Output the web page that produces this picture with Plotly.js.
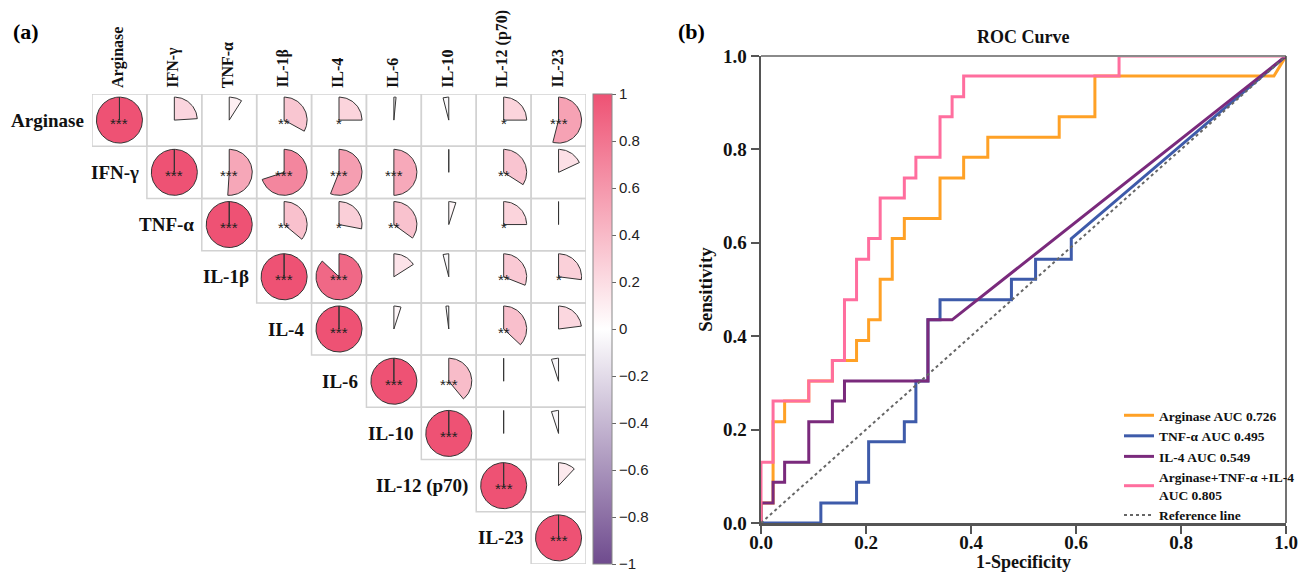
<!DOCTYPE html>
<html><head><meta charset="utf-8">
<script src="https://cdn.plot.ly/plotly-3.0.1.min.js"></script>
<style>html,body{margin:0;padding:0;background:#fff}#chart{width:1301px;height:573px}</style>
</head><body><div id="chart"></div>
<script>
// ---------- DATA ----------
const labels = ['Arginase','IFN-γ','TNF-α','IL-1β','IL-4','IL-6','IL-10','IL-12 (p70)','IL-23'];
// correlation values, each row from the diagonal to the right
const corrArginase = [1, 0.24, 0.09, 0.33, 0.25, 0.015, -0.04, 0.25, 0.54];
const corrIFNg     = [1, 0.51, 0.70, 0.56, 0.50, 0.005, 0.34, 0.18];
const corrTNFa     = [1, 0.36, 0.28, 0.35, 0.05, 0.25, 0.005];
const corrIL1b     = [1, 0.87, 0.16, -0.04, 0.31, 0.27];
const corrIL4      = [1, 0.05, -0.02, 0.37, 0.23];
const corrIL6      = [1, 0.39, 0.005, -0.05];
const corrIL10     = [1, 0.005, -0.05];
const corrIL12     = [1, 0.12];
const corrIL23     = [1];
// significance stars, same layout
const starsArginase = ['***','','','**','*','','','*','***'];
const starsIFNg     = ['***','***','***','***','***','','**',''];
const starsTNFa     = ['***','**','*','**','','*',''];
const starsIL1b     = ['***','***','','','**','*'];
const starsIL4      = ['***','','','**',''];
const starsIL6      = ['***','***','',''];
const starsIL10     = ['***','',''];
const starsIL12     = ['***',''];
const starsIL23     = ['***'];
const corrRows  = [corrArginase, corrIFNg, corrTNFa, corrIL1b, corrIL4, corrIL6, corrIL10, corrIL12, corrIL23];
const starRows  = [starsArginase, starsIFNg, starsTNFa, starsIL1b, starsIL4, starsIL6, starsIL10, starsIL12, starsIL23];
const colorbarTicks = [-1,-0.8,-0.6,-0.4,-0.2,0,0.2,0.4,0.6,0.8,1];

// ROC curves (1-specificity, sensitivity)
const rocArgFpr = [0,0,0.023,0.023,0.045,0.045,0.091,0.091,0.136,0.136,0.182,0.182,0.205,0.205,0.227,0.227,0.25,0.25,0.273,0.273,0.341,0.341,0.386,0.386,0.432,0.432,0.568,0.568,0.636,0.636,0.977,1];
const rocArgTpr = [0,0.043,0.043,0.217,0.217,0.261,0.261,0.304,0.304,0.348,0.348,0.391,0.391,0.435,0.435,0.522,0.522,0.609,0.609,0.652,0.652,0.739,0.739,0.783,0.783,0.826,0.826,0.870,0.870,0.957,0.957,1];
const rocTnfFpr = [0,0.114,0.114,0.182,0.182,0.205,0.205,0.273,0.273,0.295,0.295,0.318,0.318,0.341,0.341,0.477,0.477,0.523,0.523,0.591,0.591,1];
const rocTnfTpr = [0,0,0.043,0.043,0.087,0.087,0.174,0.174,0.217,0.217,0.304,0.304,0.435,0.435,0.478,0.478,0.522,0.522,0.565,0.565,0.609,1];
const rocIl4Fpr = [0,0,0.023,0.023,0.045,0.045,0.091,0.091,0.136,0.136,0.159,0.159,0.318,0.318,0.364,1];
const rocIl4Tpr = [0,0.043,0.043,0.087,0.087,0.130,0.130,0.217,0.217,0.261,0.261,0.304,0.304,0.435,0.435,1];
const rocComboFpr = [0,0,0.023,0.023,0.091,0.091,0.136,0.136,0.159,0.159,0.182,0.182,0.205,0.205,0.227,0.227,0.273,0.273,0.295,0.295,0.341,0.341,0.364,0.364,0.386,0.386,0.682,0.682,1];
const rocComboTpr = [0,0.130,0.130,0.261,0.261,0.304,0.304,0.348,0.348,0.478,0.478,0.565,0.565,0.609,0.609,0.696,0.696,0.739,0.739,0.783,0.783,0.870,0.870,0.913,0.913,0.957,0.957,1,1];
const refLine = [0,1];
const rocNames = ['Arginase AUC 0.726','TNF-α AUC 0.495','IL-4 AUC 0.549','Arginase+TNF-α +IL-4<br>AUC 0.805','Reference line'];

// ---------- LAYOUT CONSTANTS ----------
const W = 1301, H = 573;
const gL = 92, gR = 586, gT = 94, gB = 564;
const n = labels.length;
const cellW = (gR - gL) / n, cellH = (gB - gT) / n;
const R = 23;
const rx = R / cellW, ry = R / cellH;
const serif = 'Liberation Serif, Times New Roman, serif';
const sans = 'Liberation Sans, Arial, sans-serif';

const stops = [[-1,[111,75,142]],[0,[255,255,255]],[1,[238,82,116]]];
const cscale = [[0,'rgb(111,75,142)'],[0.5,'rgb(255,255,255)'],[1,'rgb(238,82,116)']];
function colorFor(v){
  let a = stops[0], b = stops[1];
  if (v >= 0) { a = stops[1]; b = stops[2]; }
  const t = (v - a[0]) / (b[0] - a[0]);
  const c = a[1].map((ch, k) => Math.round(ch + (b[1][k] - ch) * t));
  return 'rgb(' + c.join(',') + ')';
}

const traces = [];
const shapes = [];
const annotations = [];

for (let i = 0; i < n; i++) {
  const row = corrRows[i];
  for (let k = 0; k < row.length; k++) {
    const j = i + k;
    const v = row[k];
    shapes.push({type:'rect', xref:'x', yref:'y', x0:j-0.5, x1:j+0.5, y0:i-0.5, y1:i+0.5,
      line:{color:'#d2d2d2', width:1.5}, fillcolor:'rgba(0,0,0,0)', layer:'below'});
    const ang = v * 2 * Math.PI;
    const steps = Math.max(2, Math.ceil(Math.abs(v) * 144));
    const xs = [j], ys = [i];
    for (let s = 0; s <= steps; s++) {
      const t = ang * s / steps;
      xs.push(j + rx * Math.sin(t));
      ys.push(i - ry * Math.cos(t));
    }
    xs.push(j); ys.push(i);
    traces.push({type:'scatter', x:xs, y:ys, xaxis:'x', yaxis:'y', mode:'lines', fill:'toself',
      fillcolor: colorFor(v), line:{color:'#333', width:1}, hoverinfo:'skip', showlegend:false});
    const st = starRows[i][k];
    if (st) annotations.push({xref:'x', yref:'y', x:j, y:i, text:st, showarrow:false, yshift:-3,
      font:{family:sans, size:15, color:'#222'}});
  }
  annotations.push({xref:'x', yref:'y', x:i-0.5, y:i, xanchor:'right', xshift:-6, text:labels[i], showarrow:false,
    font:{family:serif, size:19, weight:'bold', color:'#111'}});
  annotations.push({xref:'x', yref:'y', x:i, y:-0.5, xanchor:'center', yanchor:'bottom', yshift:4, xshift:-2, textangle:-90, text:labels[i], showarrow:false,
    font:{family:serif, size:16, weight:'bold', color:'#111'}});
}

// colorbar carrier
traces.push({type:'scatter', x:[0], y:[0], xaxis:'x', yaxis:'y', mode:'markers', hoverinfo:'skip', showlegend:false,
  marker:{size:1, opacity:0, color:[0], cmin:-1, cmax:1, colorscale:cscale, showscale:true,
    colorbar:{x:593/W, xanchor:'left', xpad:0, y:1-329/H, yanchor:'middle', ypad:0, len:470, lenmode:'pixels',
      thickness:19, thicknessmode:'pixels', outlinewidth:1, outlinecolor:'#888', ticks:'outside', ticklen:4,
      tickcolor:'#666', tickmode:'array', tickvals:colorbarTicks,
      tickfont:{family:sans, size:15, color:'#222'}}}});

// ROC traces
const rocColors = ['#FFA126','#3E5BAA','#7A2A7C','#FF6E9E'];
const rocX = [rocArgFpr, rocTnfFpr, rocIl4Fpr, rocComboFpr];
const rocY = [rocArgTpr, rocTnfTpr, rocIl4Tpr, rocComboTpr];
for (let c = 0; c < 4; c++) {
  traces.push({type:'scatter', x:rocX[c], y:rocY[c], xaxis:'x2', yaxis:'y2', mode:'lines', name:rocNames[c],
    line:{color:rocColors[c], width:3}, hoverinfo:'skip'});
}
traces.push({type:'scatter', x:refLine, y:refLine, xaxis:'x2', yaxis:'y2', mode:'lines', name:rocNames[4],
  line:{color:'#666', width:2, dash:'dot'}, hoverinfo:'skip'});

shapes.push({type:'line', xref:'x2 domain', yref:'y2 domain', x0:0, x1:1, y0:1, y1:1, line:{color:'#8a8a8a', width:2}});
shapes.push({type:'line', xref:'x2 domain', yref:'y2 domain', x0:1, x1:1, y0:0, y1:1, line:{color:'#444', width:1.5}});

const axFont = {family:serif, size:19, weight:'bold', color:'#111'};
annotations.push({xref:'paper', yref:'paper', x:26/W, y:1-31/H, xanchor:'center', yanchor:'middle', text:'(a)', showarrow:false,
  font:{family:serif, size:22, weight:'bold', color:'#000'}});
annotations.push({xref:'paper', yref:'paper', x:691/W, y:1-31/H, xanchor:'center', yanchor:'middle', text:'(b)', showarrow:false,
  font:{family:serif, size:22, weight:'bold', color:'#000'}});
annotations.push({xref:'paper', yref:'paper', x:1023.5/W, y:1-37/H, xanchor:'center', yanchor:'middle', text:'ROC Curve', showarrow:false,
  font:{family:serif, size:18, weight:'bold', color:'#111'}});
annotations.push({xref:'paper', yref:'paper', x:1023.5/W, y:1-562/H, xanchor:'center', yanchor:'middle', text:'1-Specificity', showarrow:false,
  borderpad:0, font:{family:serif, size:18, weight:'bold', color:'#111'}});

const layout = {
  width:W, height:H, margin:{l:0, r:0, t:0, b:0}, paper_bgcolor:'#fff', plot_bgcolor:'rgba(0,0,0,0)',
  showlegend:true,
  xaxis:{domain:[gL/W, gR/W], range:[-0.5, n-0.5], visible:false, fixedrange:true},
  yaxis:{domain:[1-gB/H, 1-gT/H], range:[n-0.5, -0.5], visible:false, fixedrange:true},
  xaxis2:{domain:[761/W, 1286/W], range:[0,1], anchor:'y2', showgrid:false, zeroline:false, showline:true,
    linecolor:'#555', linewidth:2.5, ticks:'outside', ticklen:8, tickwidth:2, tickcolor:'#555',
    tickmode:'linear', tick0:0, dtick:0.2, tickformat:'.1f', tickfont:axFont, ticklabelstandoff:-7},
  yaxis2:{domain:[1-523/H, 1-56/H], range:[0,1], anchor:'x2', showgrid:false, zeroline:false, showline:true,
    linecolor:'#555', linewidth:2.5, ticks:'outside', ticklen:8, tickwidth:2, tickcolor:'#555',
    tickmode:'linear', tick0:0, dtick:0.2, tickformat:'.1f', tickfont:axFont,
    title:{text:'Sensitivity', font:axFont, standoff:6}},
  legend:{x:1119/W, y:1-400/H, xanchor:'left', yanchor:'top', bgcolor:'rgba(0,0,0,0)', borderwidth:0,
    font:{family:serif, size:13.5, weight:'bold', color:'#111'}, tracegroupgap:0, itemwidth:30},
  shapes:shapes, annotations:annotations
};
Plotly.newPlot('chart', traces, layout, {displayModeBar:false, staticPlot:true});
</script></body></html>
